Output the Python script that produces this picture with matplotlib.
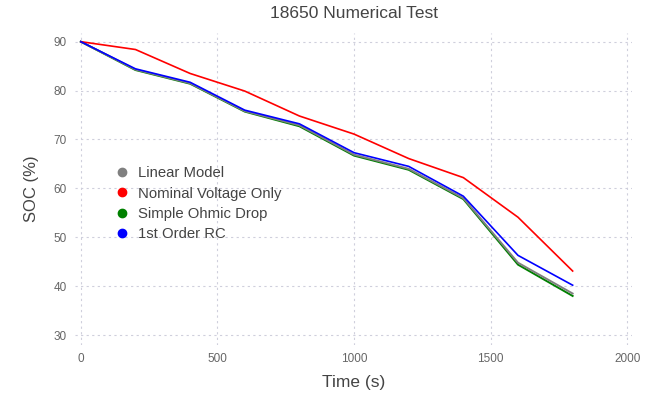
import matplotlib
matplotlib.use("Agg")
import matplotlib.pyplot as plt

time = [0, 200, 400, 600, 800, 1000, 1200, 1400, 1600, 1800]
linear = [90, 84.3, 81.5, 75.8, 72.9, 66.9, 64.0, 58.0, 44.8, 38.5]
nominal = [90, 88.4, 83.5, 79.9, 74.8, 71.1, 66.1, 62.2, 54.1, 43.1]
ohmic = [90, 84.2, 81.4, 75.7, 72.7, 66.7, 63.8, 57.8, 44.4, 38.0]
rc = [90, 84.45, 81.7, 76.0, 73.2, 67.3, 64.5, 58.4, 46.3, 40.2]

labels = ["Linear Model", "Nominal Voltage Only", "Simple Ohmic Drop", "1st Order RC"]
colors = ["grey", "red", "green", "blue"]

plt.rcParams["font.family"] = ["Liberation Sans", "DejaVu Sans"]

fig = plt.figure(figsize=(6.62, 4.01), dpi=100)
ax = fig.add_axes([0.113, 0.14, 0.842, 0.778])

ax.plot(time, ohmic, color="green", lw=1.4, zorder=3)
ax.plot(time, linear, color="grey", lw=1.4, zorder=4)
ax.plot(time, nominal, color="red", lw=1.2, zorder=5)
ax.plot(time, rc, color="blue", lw=1.2, zorder=6)

# legend with dot markers
handles = [plt.Line2D([], [], ls="", marker="o", ms=6, color=c) for c in colors]
ax.legend(handles, labels, loc="upper left", bbox_to_anchor=(0.036, 0.615),
          frameon=False, fontsize=10.7, handletextpad=0.2, labelspacing=0.42,
          handlelength=1.8, labelcolor="#444444")

ax.set_xlim(-22, 2018)
ax.set_ylim(28, 91.8)
ax.set_xticks([0, 500, 1000, 1500, 2000])
ax.set_yticks([30, 40, 50, 60, 70, 80, 90])
ax.grid(True, ls=(0, (2, 3)), color="#cfcfdc", lw=0.8)
ax.set_axisbelow(True)
for s in ax.spines.values():
    s.set_visible(False)
ax.tick_params(length=0, labelsize=8.5, colors="#666666", pad=6)

ax.set_xlabel("Time (s)", fontsize=12.5, color="#444444", labelpad=7)
ax.set_ylabel("SOC (%)", fontsize=12, color="#444444", labelpad=10)
ax.set_title("18650 Numerical Test", fontsize=12.5, color="#444444", pad=11)

fig.savefig("out.png", dpi=100)
